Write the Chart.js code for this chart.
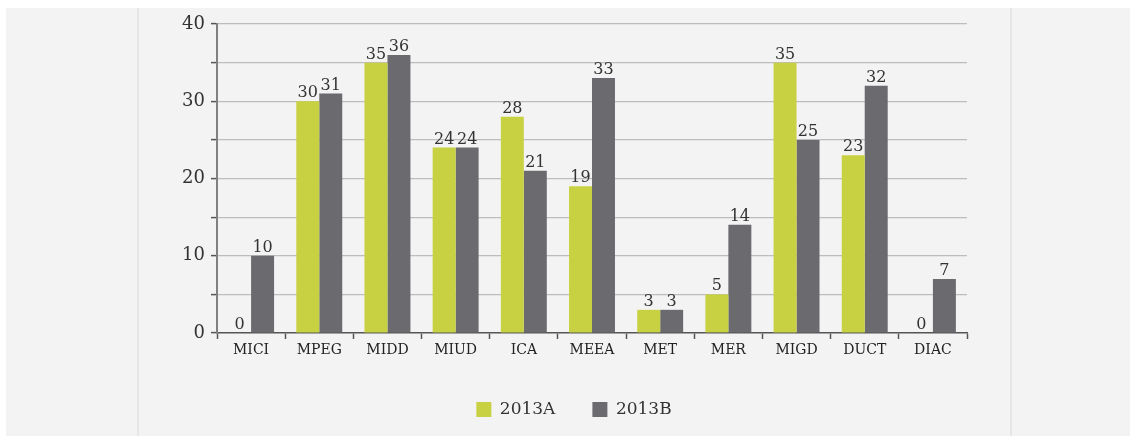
<!DOCTYPE html>
<html>
<head>
<meta charset="utf-8">
<script src="https://cdn.jsdelivr.net/npm/chart.js@4.4.0/dist/chart.umd.min.js"></script>
<style>
  html, body { margin: 0; padding: 0; background: #ffffff; }
  #wrap { position: relative; width: 1130px; height: 437px; overflow: hidden; }
  #panel { position: absolute; left: 6px; top: 8px; right: 0; bottom: 1px; background: #f3f3f3; }
  .vline { position: absolute; top: 8px; bottom: 1px; width: 2px; background: #e6e6e6; }
  canvas { position: absolute; left: 0; top: 0; }
</style>
</head>
<body>
<div id="wrap">
  <div id="panel"></div>
  <div class="vline" style="left:137px"></div>
  <div class="vline" style="left:1010px"></div>
  <canvas id="c" width="1130" height="437"></canvas>
</div>
<script>
const categories = ['MICI', 'MPEG', 'MIDD', 'MIUD', 'ICA', 'MEEA', 'MET', 'MER', 'MIGD', 'DUCT', 'DIAC'];
const series2013A = [0, 30, 35, 24, 28, 19, 3, 5, 35, 23, 0];
const series2013B = [10, 31, 36, 24, 21, 33, 3, 14, 25, 32, 7];
const seriesNames = ['2013A', '2013B'];
const yTicks = [0, 10, 20, 30, 40];

const FONT = "'DejaVu Serif', serif";

const valueLabels = {
  id: 'valueLabels',
  afterDatasetsDraw(chart) {
    const ctx = chart.ctx;
    ctx.save();
    ctx.font = "16px " + FONT;
    ctx.fillStyle = '#333333';
    ctx.textAlign = 'center';
    ctx.textBaseline = 'alphabetic';
    chart.data.datasets.forEach((ds, i) => {
      const meta = chart.getDatasetMeta(i);
      meta.data.forEach((bar, j) => {
        ctx.fillText(String(ds.data[j]), bar.x, bar.y - 4);
      });
    });
    ctx.restore();
  }
};

new Chart(document.getElementById('c'), {
  type: 'bar',
  data: {
    labels: categories,
    datasets: [
      { label: seriesNames[0], data: series2013A, backgroundColor: '#c8d141', borderWidth: 0 },
      { label: seriesNames[1], data: series2013B, backgroundColor: '#6b6b6f', borderWidth: 0 }
    ]
  },
  options: {
    responsive: false,
    animation: false,
    devicePixelRatio: 1,
    layout: { padding: { left: 181, right: 163, top: 24, bottom: 9 } },
    datasets: { bar: { categoryPercentage: 0.674, barPercentage: 1.0 } },
    plugins: {
      tooltip: { enabled: false },
      legend: {
        position: 'bottom',
        labels: {
          boxWidth: 15,
          boxHeight: 15,
          padding: 37,
          color: '#333333',
          font: { family: FONT, size: 17 }
        }
      }
    },
    scales: {
      x: {
        afterFit(scale) { scale.height = 31; },
        grid: {
          offset: true,
          drawOnChartArea: false,
          drawTicks: true,
          tickLength: 6,
          tickColor: '#555555',
          tickWidth: 1.5
        },
        border: { display: true, color: '#555555', width: 1.5 },
        ticks: {
          padding: 3,
          color: '#222222',
          font: { family: FONT, size: 14 }
        }
      },
      y: {
        min: 0,
        max: 40,
        afterFit(scale) { scale.width = 36; },
        afterBuildTicks(scale) {
          const t = [];
          for (let v = 0; v <= 40; v += 5) t.push({ value: v });
          scale.ticks = t;
        },
        grid: {
          color: (c) => (c.tick && c.tick.value === 0 ? 'rgba(0,0,0,0)' : '#bdbdbd'),
          lineWidth: 1.2,
          drawTicks: true,
          tickLength: 6,
          tickColor: '#555555',
          tickWidth: 1.5
        },
        border: { display: true, color: '#808080', width: 2 },
        ticks: {
          padding: 6,
          color: '#333333',
          font: { family: FONT, size: 18 },
          callback: (v) => (yTicks.includes(v) ? String(v) : '')
        }
      }
    }
  },
  plugins: [valueLabels]
});
</script>
</body>
</html>
